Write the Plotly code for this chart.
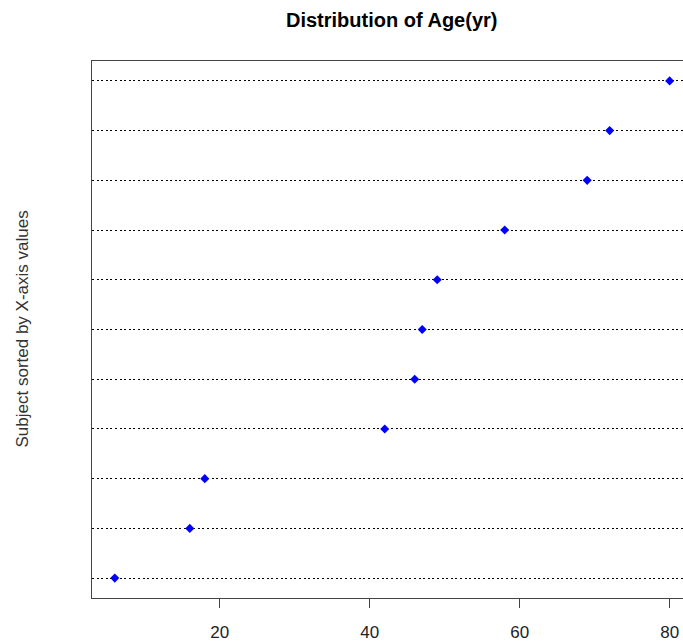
import plotly.graph_objects as go

subjects = list(range(1, 12))
ages = [6, 16, 18, 42, 46, 47, 49, 58, 69, 72, 80]
x_ticks = [20, 40, 60, 80]

fig = go.Figure()
fig.add_trace(go.Scatter(
    x=ages, y=subjects, mode="markers",
    marker=dict(symbol="diamond", size=7, color="#0000FF", line=dict(width=0)),
    showlegend=False, hoverinfo="x",
))

fig.update_layout(
    width=683, height=641,
    margin=dict(l=92, r=0, t=61, b=43),
    paper_bgcolor="white", plot_bgcolor="white",
    font=dict(family="Liberation Sans, Arial, sans-serif", color="#222"),
    annotations=[
        dict(text="<b>Distribution of Age(yr)</b>", xref="paper", yref="paper",
             x=0.5076, y=1, yshift=41, showarrow=False,
             font=dict(size=20, color="black"), xanchor="center", yanchor="middle"),
        dict(text="Subject sorted by X-axis values", xref="paper", yref="paper",
             x=0, xshift=-70, y=0.5, textangle=-90, showarrow=False,
             font=dict(size=17, color="#333"), xanchor="center", yanchor="middle"),
    ],
)
fig.update_xaxes(
    range=[2.96, 81.78], tickvals=x_ticks, ticktext=[str(v) for v in x_ticks],
    showgrid=False, zeroline=False,
    showline=True, linecolor="#444", linewidth=1, mirror=True,
    ticks="outside", ticklen=9, tickcolor="#444",
    tickfont=dict(size=17, color="#222"), ticklabelstandoff=10,
)
fig.update_yaxes(
    range=[0.6, 11.4], tickvals=subjects, showticklabels=False,
    showgrid=True, gridcolor="black", gridwidth=1, griddash="2px,2.6px",
    zeroline=False, showline=True, linecolor="#444", linewidth=1, mirror=False,
    ticks="",
)

fig.write_html("out.html", config={"displayModeBar": False},
               post_script="document.body.style.margin='0';document.body.style.overflow='hidden';")
